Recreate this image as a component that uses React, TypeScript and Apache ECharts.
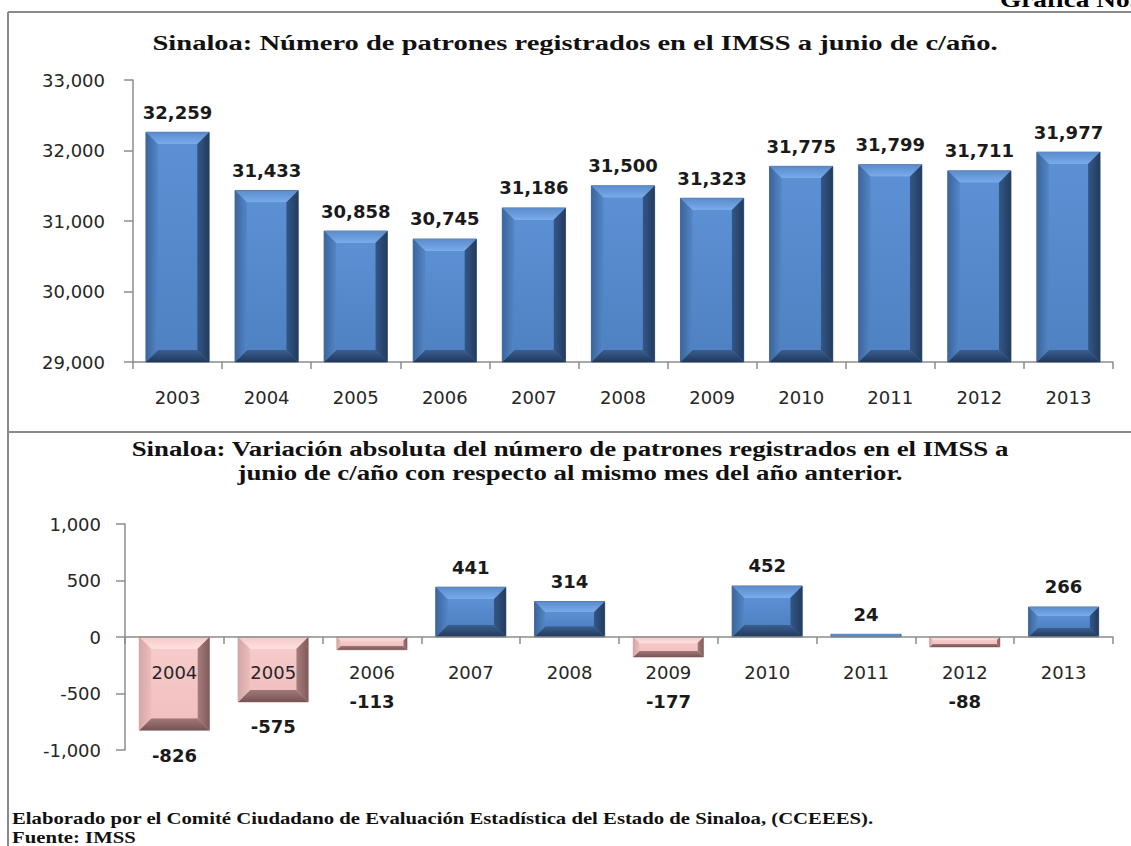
import React, { useEffect, useRef } from "react";
import * as echarts from "echarts";

const yearsTop = ["2003", "2004", "2005", "2006", "2007", "2008", "2009", "2010", "2011", "2012", "2013"];
const patrones = [32259, 31433, 30858, 30745, 31186, 31500, 31323, 31775, 31799, 31711, 31977];

const yearsBottom = ["2004", "2005", "2006", "2007", "2008", "2009", "2010", "2011", "2012", "2013"];
const variacion = [-826, -575, -113, 441, 314, -177, 452, 24, -88, 266];

const topAxis = { min: 29000, max: 33000, interval: 1000 };
const bottomAxis = { min: -1000, max: 1000, interval: 500 };

const titleTop = "Sinaloa: Número de patrones registrados en el IMSS a junio de c/año.";
const titleBottom1 = "Sinaloa: Variación absoluta del número de patrones registrados en el IMSS a";
const titleBottom2 = "junio de c/año con respecto al mismo mes del año anterior.";
const footer1 = "Elaborado por el Comité Ciudadano de Evaluación Estadística del Estado de Sinaloa, (CCEEES).";
const footer2 = "Fuente: IMSS";
const cornerText = "Gráfica No.";

const fmt = (v: number) => v.toLocaleString("en-US");

const lg = (x2: number, y2: number, c0: string, c1: string) =>
  new echarts.graphic.LinearGradient(0, 0, x2, y2, [
    { offset: 0, color: c0 },
    { offset: 1, color: c1 },
  ]);

const BLUE = {
  top: ["#5A8BCB", "#7AACEB"],
  left: ["#3C659C", "#5386C6"],
  right: ["#33578A", "#243B5B"],
  bottom: ["#3A5F90", "#22385A"],
  face: ["#5C90D4", "#4F82C2"],
  stroke: "#3A5C88",
};
const PINK = {
  top: ["#F4CACA", "#FFE0E0"],
  left: ["#D6A6A6", "#EBBDBD"],
  right: ["#A87C7C", "#7F5B5B"],
  bottom: ["#A27878", "#765454"],
  face: ["#F7CBCB", "#F1C0C0"],
  stroke: "#B89090",
};

function bevel(x0: number, y0: number, x1: number, y1: number, b: number, c: any) {
  const w = x1 - x0;
  const h = y1 - y0;
  return [
    { type: "rect", shape: { x: x0, y: y0, width: w, height: h }, style: { fill: c.face[1], stroke: c.stroke, lineWidth: 0.8 } },
    { type: "polygon", shape: { points: [[x0, y0], [x1, y0], [x1 - b, y0 + b], [x0 + b, y0 + b]] }, style: { fill: lg(0, 1, c.top[0], c.top[1]) } },
    { type: "polygon", shape: { points: [[x0 + b, y1 - b], [x1 - b, y1 - b], [x1, y1], [x0, y1]] }, style: { fill: lg(0, 1, c.bottom[0], c.bottom[1]) } },
    { type: "polygon", shape: { points: [[x0, y0], [x0 + b, y0 + b], [x0 + b, y1 - b], [x0, y1]] }, style: { fill: lg(1, 0, c.left[0], c.left[1]) } },
    { type: "polygon", shape: { points: [[x1 - b, y0 + b], [x1, y0], [x1, y1], [x1 - b, y1 - b]] }, style: { fill: lg(1, 0, c.right[0], c.right[1]) } },
    { type: "rect", shape: { x: x0 + b, y: y0 + b, width: Math.max(0, w - 2 * b), height: Math.max(0, h - 2 * b) }, style: { fill: lg(0, 1, c.face[0], c.face[1]) } },
  ];
}

const valueFont = "bold 18px 'DejaVu Sans', Verdana, sans-serif";

function renderTop(params: any, api: any) {
  const i = api.value(0);
  const v = api.value(1);
  const pTop = api.coord([i, v]);
  const pBase = api.coord([i, topAxis.min]);
  const bw = api.size([1, 0])[0] * 0.71;
  const x0 = pTop[0] - bw / 2;
  const x1 = pTop[0] + bw / 2;
  const y0 = pTop[1];
  const y1 = pBase[1];
  const b = Math.min(12, (y1 - y0) * 0.3);
  return {
    type: "group",
    children: [
      ...bevel(x0, y0, x1, y1, b, BLUE),
      {
        type: "text",
        x: pTop[0],
        y: y0 - 20,
        style: { text: fmt(v), font: valueFont, fill: "#1A1A1A", align: "center", verticalAlign: "middle" },
      },
    ],
  };
}

function renderBottom(params: any, api: any) {
  const i = api.value(0);
  const v = api.value(1);
  const pEnd = api.coord([i, v]);
  const pZero = api.coord([i, 0]);
  const bw = api.size([1, 0])[0] * 0.71;
  const x0 = pEnd[0] - bw / 2;
  const x1 = pEnd[0] + bw / 2;
  const yA = Math.min(pEnd[1], pZero[1]);
  const yB = Math.max(pEnd[1], pZero[1]);
  const b = Math.min(12, (yB - yA) * 0.3);
  const pos = v >= 0;
  const ly = pos ? yA - 20 : Math.max(yB + 25, pZero[1] + 64);
  return {
    type: "group",
    children: [
      ...bevel(x0, yA, x1, yB, b, pos ? BLUE : PINK),
      {
        type: "text",
        x: pEnd[0],
        y: ly,
        style: { text: fmt(v), font: valueFont, fill: "#1A1A1A", align: "center", verticalAlign: "middle" },
      },
    ],
  };
}

const axisLabelStyle = { fontSize: 18, color: "#262626", fontFamily: "'DejaVu Sans', Verdana, sans-serif" };
const axisLineStyle = { color: "#8C8C8C", width: 1.5 };
const serifBold = (px: number) => `bold ${px}px 'Liberation Serif', 'Times New Roman', serif`;

export default function App() {
  const ref = useRef<HTMLDivElement>(null);
  useEffect(() => {
    if (!ref.current) return;
    const chart = echarts.init(ref.current, null, { renderer: "svg" });
    chart.setOption({
      animation: false,
      backgroundColor: "#ffffff",
      grid: [
        { left: 133, right: 18, top: 80, bottom: 484 },
        { left: 125, right: 18, top: 524, bottom: 96 },
      ],
      xAxis: [
        {
          type: "category",
          gridIndex: 0,
          data: yearsTop,
          axisLine: { lineStyle: axisLineStyle },
          axisTick: { show: true, length: 7, alignWithLabel: false, lineStyle: { color: "#8C8C8C", width: 1.5 } },
          axisLabel: { ...axisLabelStyle, margin: 26, interval: 0 },
        },
        {
          type: "category",
          gridIndex: 1,
          data: yearsBottom,
          z: 10,
          offset: -113,
          axisLine: { onZero: false, lineStyle: axisLineStyle },
          axisTick: { show: true, length: 7, alignWithLabel: false, lineStyle: { color: "#8C8C8C", width: 1.5 } },
          axisLabel: { ...axisLabelStyle, margin: 26, interval: 0 },
        },
      ],
      yAxis: [
        {
          type: "value",
          gridIndex: 0,
          min: topAxis.min,
          max: topAxis.max,
          interval: topAxis.interval,
          splitLine: { show: false },
          axisLine: { show: true, lineStyle: axisLineStyle },
          axisTick: { show: true, length: 9, lineStyle: { color: "#8C8C8C", width: 1.5 } },
          axisLabel: { ...axisLabelStyle, margin: 28, formatter: (v: number) => fmt(v) },
        },
        {
          type: "value",
          gridIndex: 1,
          min: bottomAxis.min,
          max: bottomAxis.max,
          interval: bottomAxis.interval,
          splitLine: { show: false },
          axisLine: { show: true, lineStyle: axisLineStyle },
          axisTick: { show: true, length: 9, lineStyle: { color: "#8C8C8C", width: 1.5 } },
          axisLabel: { ...axisLabelStyle, margin: 24, formatter: (v: number) => fmt(v) },
        },
      ],
      series: [
        {
          type: "custom",
          xAxisIndex: 0,
          yAxisIndex: 0,
          renderItem: renderTop,
          data: patrones.map((v, i) => [i, v]),
          clip: false,
        },
        {
          type: "custom",
          xAxisIndex: 1,
          yAxisIndex: 1,
          renderItem: renderBottom,
          data: variacion.map((v, i) => [i, v]),
          clip: false,
        },
      ],
      graphic: [
        { type: "line", shape: { x1: 8, y1: 12, x2: 1131, y2: 12 }, style: { stroke: "#8A8A8A", lineWidth: 2 } },
        { type: "line", shape: { x1: 8, y1: 12, x2: 8, y2: 846 }, style: { stroke: "#8A8A8A", lineWidth: 2 } },
        { type: "line", shape: { x1: 8, y1: 432, x2: 1131, y2: 432 }, style: { stroke: "#8A8A8A", lineWidth: 2 } },
        {
          type: "text",
          x: 1000,
          y: 10,
          scaleX: 1.3,
          style: { text: cornerText, font: serifBold(21), fill: "#000", align: "left", verticalAlign: "bottom" },
        },
        {
          type: "text",
          x: 575,
          y: 43,
          scaleX: 1.36,
          style: { text: titleTop, font: serifBold(21), fill: "#111", align: "center", verticalAlign: "middle" },
        },
        {
          type: "text",
          x: 570,
          y: 448,
          scaleX: 1.22,
          style: { text: titleBottom1, font: serifBold(22), fill: "#111", align: "center", verticalAlign: "middle" },
        },
        {
          type: "text",
          x: 570,
          y: 472,
          scaleX: 1.22,
          style: { text: titleBottom2, font: serifBold(22), fill: "#111", align: "center", verticalAlign: "middle" },
        },
        {
          type: "text",
          x: 12,
          y: 818,
          scaleX: 1.22,
          style: { text: footer1, font: serifBold(17), fill: "#111", align: "left", verticalAlign: "middle" },
        },
        {
          type: "text",
          x: 12,
          y: 837,
          scaleX: 1.22,
          style: { text: footer2, font: serifBold(17), fill: "#111", align: "left", verticalAlign: "middle" },
        },
      ],
    });
    return () => chart.dispose();
  }, []);
  return (
    <div
      ref={ref}
      style={{ position: "absolute", left: 0, top: 0, width: 1131, height: 846, background: "#fff" }}
    />
  );
}
